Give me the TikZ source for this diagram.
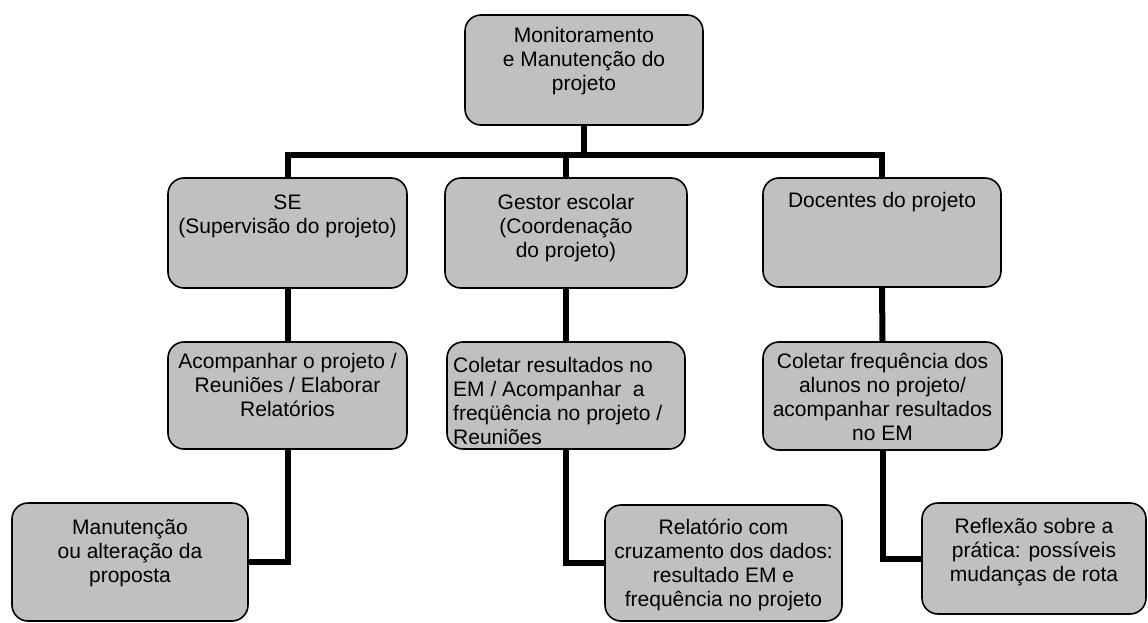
\documentclass[tikz,border=0pt]{standalone}
\usepackage{fontspec}
\setmainfont{Liberation Sans}
\definecolor{boxgray}{HTML}{C0C0C0}
\newcommand{\firstline}{\rule{0pt}{18pt}}
\begin{document}
\begin{tikzpicture}[x=1pt,y=-1pt,
  box/.style={draw=black, line width=1.6pt, fill=boxgray, rounded corners=16pt,
    rectangle, inner sep=0pt, outer sep=0pt, anchor=north west},
  txt/.style={inner sep=0pt, align=center, anchor=north,
    font=\fontsize{21pt}{24pt}\selectfont},
  conn/.style={draw=black, line width=6pt}
]
\useasboundingbox (0,0) rectangle (1148,623);

% boxes
\node[box, minimum width=238pt, minimum height=110pt] (top) at (465,15) {};
\node[box, minimum width=239pt, minimum height=110pt] (se) at (168,178) {};
\node[box, minimum width=242pt, minimum height=110pt] (gest) at (445,178) {};
\node[box, minimum width=238pt, minimum height=109pt] (doc) at (763,178) {};
\node[box, minimum width=239pt, minimum height=107pt] (sec) at (168,342) {};
\node[box, minimum width=238pt, minimum height=107pt] (gc) at (447,342) {};
\node[box, minimum width=239pt, minimum height=108pt] (dc) at (763,342) {};
\node[box, minimum width=236pt, minimum height=118pt] (bl) at (12,503) {};
\node[box, minimum width=237pt, minimum height=116pt] (bm) at (605,505) {};
\node[box, minimum width=224pt, minimum height=111pt] (br) at (922,503) {};

% connectors
\coordinate (barL) at (287.5,155);
\draw[conn] (top.south) -- (top.south |- barL);
\draw[conn] (se.north) -- (se.north |- barL) -- (doc.north |- barL) -- (doc.north);
\draw[conn] (gest.north) -- (gest.north |- barL);
\draw[conn] (se.south) -- (sec.north);
\draw[conn] (gest.south) -- (gc.north);
\draw[conn] (doc.south) -- (dc.north);
\draw[conn] (sec.south) |- (bl.east);
\draw[conn] (gc.south) |- (bm.west);
\draw[conn] (dc.south) |- (br.west);

% texts
\node[txt] (t1) at (top.north |- 0,24) {\firstline Monitoramento\\ e Manutenção do\\projeto};
\node[txt] (t2) at (se.north |- 0,191) {\firstline SE\\(Supervisão do projeto)};
\node[txt] (t3) at (gest.north |- 0,191) {\firstline Gestor escolar\\(Coordenação\\do projeto)};
\node[txt] (t4) at (doc.north |- 0,189) {\firstline Docentes do projeto};
\node[txt] (t5) at (sec.north |- 0,350) {\firstline Acompanhar o projeto /\\Reuniões / Elaborar\\Relatórios};
\node[txt, align=left, anchor=north west] (t6) at (453,354) {\firstline Coletar resultados no\\EM / Acompanhar\ \ a\\freqüência no projeto /\\Reuniões};
\node[txt] (t7) at (dc.north |- 0,350) {\firstline Coletar frequência dos\\alunos no projeto/\\acompanhar resultados\\no EM};
\node[txt] (t8) at (bl.north |- 0,516) {\firstline Manutenção\\ou alteração da\\proposta};
\node[txt] (t9) at (bm.north |- 0,516) {\firstline Relatório com\\cruzamento dos dados:\\resultado EM e\\frequência no projeto};
\node[txt] (t10) at (br.north |- 0,515) {\firstline Reflexão sobre a\\prática: possíveis\\mudanças de rota};
\end{tikzpicture}
\end{document}
